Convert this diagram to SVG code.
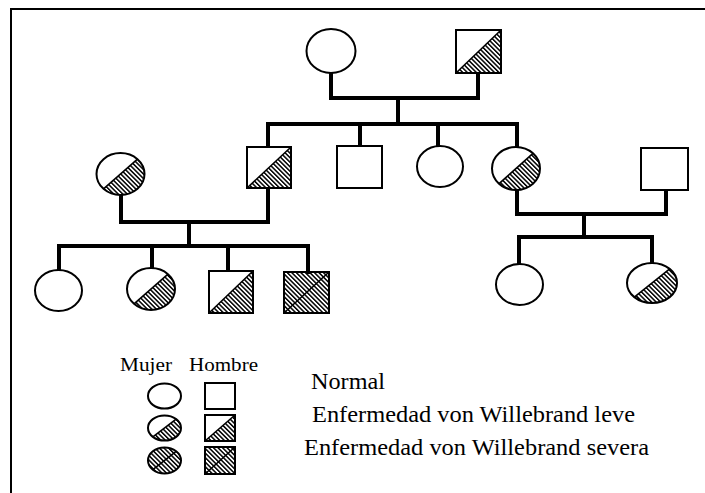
<svg xmlns="http://www.w3.org/2000/svg" width="705" height="493" viewBox="0 0 705 493">
<defs>
<pattern id="hatch" patternUnits="userSpaceOnUse" width="3.2" height="3.2" patternTransform="rotate(-45)">
<rect x="0" y="0" width="1.5" height="3.2" fill="#000"/>
</pattern>
<style>
.bg{fill:#fff}
.out{fill:none;stroke:#000;stroke-width:2}
.hat{fill:url(#hatch);stroke:none}
.div{stroke:#000;stroke-width:1.6;fill:none}
.con{fill:none;stroke:#000;stroke-width:4;stroke-linejoin:miter;stroke-linecap:square}
.lg{font-family:"Liberation Serif","Times New Roman",serif;fill:#000}
</style>
</defs>
<rect width="705" height="493" fill="#fff"/>
<g id="frame" fill="none" stroke="#000" stroke-width="2">
<path d="M11,493 V9 H705"/>
</g>
<g id="connectors" class="con">
<path d="M331,73 V98 H478 V73"/>
<path d="M398,98 V124"/>
<path d="M268,147 V124 H517 V147"/>
<path d="M360,124 V146"/>
<path d="M438,124 V146"/>
<path d="M121,195 V222 H268 V188"/>
<path d="M189,222 V246"/>
<path d="M59,270 V246 H308 V272"/>
<path d="M152,246 V268"/>
<path d="M228,246 V271"/>
<path d="M517,190 V214 H666 V190"/>
<path d="M584,214 V237"/>
<path d="M519,264 V237 H652 V263"/>
</g>
<g id="I1"><ellipse class="bg" cx="331" cy="51" rx="24.5" ry="22"/><ellipse class="out" cx="331" cy="51" rx="24.5" ry="22"/></g>
<g id="I2"><rect class="bg" x="456" y="30" width="45" height="43"/><polygon class="hat" points="456,73 501,30 501,73"/><line class="div" x1="456" y1="73" x2="501" y2="30"/><rect class="out" x="456" y="30" width="45" height="43"/></g>
<g id="II1"><ellipse class="bg" cx="120.5" cy="174" rx="24" ry="21"/><path class="hat" d="M103.53,188.85 A24,21 0 0 0 137.47,159.15 Z"/><line class="div" x1="103.53" y1="188.85" x2="137.47" y2="159.15"/><ellipse class="out" cx="120.5" cy="174" rx="24" ry="21"/></g>
<g id="II2"><rect class="bg" x="247" y="147" width="44" height="41"/><polygon class="hat" points="247,188 291,147 291,188"/><line class="div" x1="247" y1="188" x2="291" y2="147"/><rect class="out" x="247" y="147" width="44" height="41"/></g>
<g id="II3"><rect class="bg" x="337" y="146" width="45" height="42"/><rect class="out" x="337" y="146" width="45" height="42"/></g>
<g id="II4"><ellipse class="bg" cx="440" cy="166.5" rx="23" ry="20.5"/><ellipse class="out" cx="440" cy="166.5" rx="23" ry="20.5"/></g>
<g id="II5"><ellipse class="bg" cx="516" cy="168.5" rx="24" ry="21.5"/><path class="hat" d="M499.03,183.7 A24,21.5 0 0 0 532.97,153.3 Z"/><line class="div" x1="499.03" y1="183.7" x2="532.97" y2="153.3"/><ellipse class="out" cx="516" cy="168.5" rx="24" ry="21.5"/></g>
<g id="II6"><rect class="bg" x="641" y="148" width="47" height="42"/><rect class="out" x="641" y="148" width="47" height="42"/></g>
<g id="III1"><ellipse class="bg" cx="58.5" cy="290.5" rx="23.5" ry="20.5"/><ellipse class="out" cx="58.5" cy="290.5" rx="23.5" ry="20.5"/></g>
<g id="III2"><ellipse class="bg" cx="151" cy="289" rx="24" ry="21"/><path class="hat" d="M134.03,303.85 A24,21 0 0 0 167.97,274.15 Z"/><line class="div" x1="134.03" y1="303.85" x2="167.97" y2="274.15"/><ellipse class="out" cx="151" cy="289" rx="24" ry="21"/></g>
<g id="III3"><rect class="bg" x="209" y="271" width="44" height="42"/><polygon class="hat" points="209,313 253,271 253,313"/><line class="div" x1="209" y1="313" x2="253" y2="271"/><rect class="out" x="209" y="271" width="44" height="42"/></g>
<g id="III4"><rect class="hat" x="284" y="272" width="45" height="41"/><line class="div" x1="284" y1="313" x2="329" y2="272"/><rect class="out" x="284" y="272" width="45" height="41"/></g>
<g id="III5"><ellipse class="bg" cx="519.5" cy="284.5" rx="23.5" ry="20.5"/><ellipse class="out" cx="519.5" cy="284.5" rx="23.5" ry="20.5"/></g>
<g id="III6"><ellipse class="bg" cx="652" cy="283" rx="25" ry="20"/><path class="hat" d="M634.32,297.14 A25,20 0 0 0 669.68,268.86 Z"/><line class="div" x1="634.32" y1="297.14" x2="669.68" y2="268.86"/><ellipse class="out" cx="652" cy="283" rx="25" ry="20"/></g>
<g id="legend">
<text class="lg" x="120" y="371" font-size="18.5" textLength="52" lengthAdjust="spacingAndGlyphs">Mujer</text>
<text class="lg" x="189" y="371" font-size="18.5" textLength="69" lengthAdjust="spacingAndGlyphs">Hombre</text>
<g id="L-f-normal"><ellipse class="out" cx="164.5" cy="396" rx="16.5" ry="12.5" stroke-width="2.5"/></g>
<g id="L-f-mild"><path class="hat" d="M152.83,436.84 A16.5,12.5 0 0 0 176.17,419.16 Z"/><line class="div" x1="152.83" y1="436.84" x2="176.17" y2="419.16"/><ellipse class="out" cx="164.5" cy="428" rx="16.5" ry="12.5" stroke-width="2.5"/></g>
<g id="L-f-severe"><ellipse class="hat" cx="164.5" cy="460.5" rx="16.5" ry="13"/><line class="div" x1="152.83" y1="469.7" x2="176.17" y2="451.3"/><ellipse class="out" cx="164.5" cy="460.5" rx="16.5" ry="13" stroke-width="2.5"/></g>
<g id="L-m-normal"><rect class="out" x="205" y="383" width="30" height="26" stroke-width="2.5"/></g>
<g id="L-m-mild"><polygon class="hat" points="205,441 235,415 235,441"/><line class="div" x1="205" y1="441" x2="235" y2="415"/><rect class="out" x="205" y="415" width="30" height="26" stroke-width="2.5"/></g>
<g id="L-m-severe"><rect class="hat" x="205" y="447" width="30" height="27"/><line class="div" x1="205" y1="474" x2="235" y2="447"/><rect class="out" x="205" y="447" width="30" height="27" stroke-width="2.5"/></g>
<text class="lg" x="311" y="389" font-size="23" textLength="74" lengthAdjust="spacingAndGlyphs">Normal</text>
<text class="lg" x="312" y="422" font-size="23" textLength="323" lengthAdjust="spacingAndGlyphs">Enfermedad von Willebrand leve</text>
<text class="lg" x="304" y="455" font-size="23" textLength="345" lengthAdjust="spacingAndGlyphs">Enfermedad von Willebrand severa</text>
</g>
</svg>
